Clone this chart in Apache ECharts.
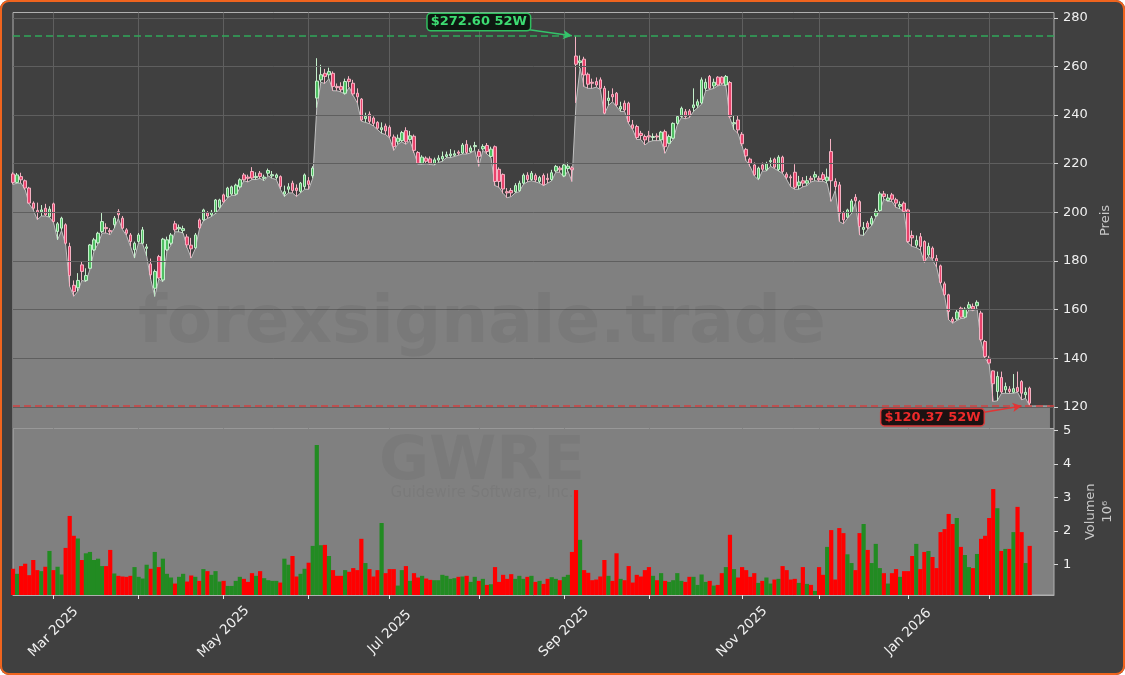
<!DOCTYPE html>
<html>
<head>
<meta charset="utf-8">
<script src="https://cdn.jsdelivr.net/npm/echarts@6/dist/echarts.min.js"></script>
<style>
html,body{margin:0;padding:0;background:#ffffff;}
#chart{position:absolute;left:0;top:0;width:1125px;height:675px;background:#404040;border-radius:9px;}
#frame{position:absolute;left:0;top:0;width:1125px;height:675px;box-sizing:border-box;border:2.5px solid #f0641e;border-radius:9px;pointer-events:none;}
</style>
</head>
<body>
<div id="chart"></div>
<div id="frame"></div>
<script>
// ---------- DATA ----------
const startDate = '2025-02-14';
const holidays = ['2025-02-17','2025-04-18','2025-05-26','2025-06-19','2025-07-04','2025-09-01','2025-11-27','2025-12-25','2026-01-01','2026-01-19','2026-02-16'];
const extraSlots = 6;

const open = [
215.8,212.3,214.7,213,210,203.8,200.8,200.2,201.7,198.3,
203.5,192.1,193.5,194.9,186,170,169,178.4,172,177,
184.6,187.5,192.1,193.8,192.5,194.9,200.3,197.6,192.8,190.7,
184.6,188,187.3,185.2,178.8,168.8,181.8,172.2,184.6,187.3,
195.3,193.2,192.5,189.9,186.5,185.4,196.9,196.9,199.8,199,
199.8,202.1,207.2,206.4,207.5,207.5,210.5,215.4,214.5,216.8,
214.3,216.1,214,216.1,215,214.3,214.7,207.5,209.5,212,
210,208.6,210.6,213,215,247,254.5,257.2,256.6,257.2,
251.8,251.8,249,254.8,253.1,249,246.6,238.5,240.4,238.8,
237,234,235.5,235,231,229,229.5,233.6,230,231.3,
224.6,220.2,222.3,222,220,221.5,222,223,223.3,223.5,
224.8,224.4,228,225,227,225,226.1,227.5,223,227,
217.7,215.6,208.5,209,208.5,208.9,212,215.3,213.5,215.2,
212.7,215.2,214,213.5,217,218.2,215,218,218.3,264.3,
261.6,263,256.8,253.5,253.8,254.5,251,246,248.5,249,
242.5,244.9,244.9,236,235.3,232.5,231.2,231.5,230.8,231.4,
229.8,233.2,228.4,230.5,236.6,239.4,241.4,241.7,243.1,244,
245,251,255.9,252,255.6,255.6,252.4,253.4,236.4,238,
232.1,225.9,221.9,219.5,214,219.5,217.5,220.8,221.9,217.6,
222.7,215.7,214.6,216.5,211,213,212,214,214.5,214,
215.5,213,225,212.7,211.3,199.9,198,199.9,206.2,204.4,
193,195.6,195.2,198.6,200.8,207.6,204.9,207.2,205.2,202.5,
203.8,201,190.5,186.5,190,188,182.5,185.3,181,178,
170.6,166.1,156.1,156.1,160.6,156.9,160.6,161.3,161.6,158.6,
146.9,140,134.8,126.3,132.1,127,127.3,126,128,130.4,
125,127.7];

const close = [
212.3,215.4,213.4,210,203.8,201.7,200,201,199,201.3,
196.2,195.3,197.6,187.3,174,167.4,172,175.7,174,186.6,
188.7,191.4,196.2,193.3,192,197.6,199,193.5,191.4,188,
187.3,190.7,192.8,185.8,174.3,175.7,173,189,188.7,190.7,
192.8,193.8,193.3,186.6,185,190.7,193.6,201,198.5,200,
205.1,205.1,204.3,210,210.5,211.2,213.4,213.4,214,214.1,
214.8,214.7,214.5,217.2,215.5,215.4,210.6,208.5,210.5,209,
209,212,215.4,211.5,218.2,254,256.6,255.9,257.9,251.8,
251.3,250.4,253.8,253.8,248.7,247.5,238,239.5,237.4,236.6,
234.6,234.8,233.5,231.3,227,230.5,232.8,229,231.5,225.5,
220.2,222.7,221,220.3,221.6,222.3,223,223.7,224,224.1,
224.3,227.7,224.6,226.5,227.5,223,227.1,225,226,212.7,
212.7,209.6,208,208,211,212,215.3,213.5,216.1,213.3,
214.3,211.3,213.5,216.3,218.9,217.5,219.5,219,217.5,260.9,
262.3,256.5,252.7,253.1,252.4,251,240.8,247,247.5,244.2,
243.5,242.1,237.3,234.6,230.8,231.6,229.8,231,231.2,231,
233,227,231.2,236.6,239.4,242.8,239.4,239.8,244.2,245.5,
254.5,253.5,251,253.5,252.4,253.1,255.9,239.4,236.9,233.9,
228.2,223.2,220.2,215.4,218.2,217.7,220,221.3,218.6,222.7,
216.8,214.4,214.2,210.3,212.5,212,213,213.4,215.5,213.4,
213.5,214.5,213,210.6,199.6,196.9,201,204.7,204.8,194.2,
193.8,193.8,197.6,200.4,207.6,206.5,205.9,205.4,203.8,203.2,
200.4,188,189.5,188.5,186,180,186,181.2,179.7,171.2,
166.1,159.2,155.1,159,156.9,160.2,162,160.2,163,147.6,
140.7,138,129.5,132.5,126.1,128.4,126.3,127.5,126.3,125.6,
126,121.5];

const low = [
211.5,212,212,209.3,203.5,201,197,198.5,198.5,198,
195.8,188.7,192.5,186.6,169.5,165.5,167.5,172,171.5,176.5,
184,187,191.5,191.5,190.8,193.5,197.5,193,190.5,186,
181.2,187.5,187,182,172.5,165.4,172.5,171.5,184,186.5,
192,192,191.5,185.5,181.2,185,193,196.5,197.5,198.3,
199.5,201.5,204,206,207,207,210,213,212.5,213.5,
213.5,214,213,215,214,213.5,209.5,206.5,208,208,
206.5,208,209.5,209.5,214,243,253.5,253,255,250,
250,249.5,248.5,251.5,248,245,237.5,237,236.5,235.5,
234,232.5,232,230.5,225.5,228,229,228,229.5,224.5,
219.8,219.8,220,219.7,219.5,220.5,221,222.5,222.5,223,
223.5,224,224,224.5,225.5,218.9,225.5,224,222.5,211,
210.3,207.8,206,206.5,208,208.5,211.5,212.5,213,212.5,
212,211,212,213,216.5,216.5,214.5,217,212.7,245,
259.3,251.7,251,251,251.5,250.5,240.4,244,245.5,243.5,
241.5,241.5,236.5,234,230,230,227.7,229,229.5,229.5,
229.5,224.3,228,230,236,239,238.5,239,241.5,243,
244.5,250,250.5,251,252,252.5,252,238.7,234,232.5,
227.3,221.3,218.8,215,213.4,217,217,219,218,217,
216,213.5,210.5,209.5,209.5,210.5,211,212.5,213,212.7,
212.8,212,204.5,209,196.2,195.3,197.5,199.5,204,190.7,
190.5,193,194.5,198,200.5,205.5,204.5,204.5,202,201.5,
200,187.4,186,185.5,184.5,179.4,182,180.5,177.5,170.5,
165.5,155.8,154.4,155.5,156.3,156.5,160,159.5,160.5,146.9,
140,137.5,122.2,122.5,125.5,125.6,125.5,125.6,126,122.9,
123.5,120.37];

const high = [
216.5,216.2,216.3,213.5,210.5,204.5,204,203,203.5,202.5,
204,196,198.2,195.5,187.5,172,175,180,177,187,
189.5,192,199.7,195.5,193.5,198.5,201.3,198.5,193.5,191.5,
188,191.5,194,187,181,176.5,182.5,189.5,190,191.5,
196.5,195,194.5,191,189.5,191.5,197.5,201.5,200.5,201,
205.5,205.6,207.7,210.5,211,211.8,214,216.2,215.5,218.6,
216.5,217,215.5,218,217,216,215.2,211,212,213,
211.5,212.5,216,214.5,219,263.4,260.7,259,259.5,258,
253,253.5,255,256,254.5,251,247,241,241.5,239.5,
237.5,237,236.5,235.8,232,232,233.5,235,233.5,232,
225.2,223.5,223,223,222.5,223.5,225,225,226,225.5,
225.5,228.5,229.7,227.5,229,226,228,228.5,227,227.5,
218.5,216,210,210,212,213,216,216.5,217,216,
215,216,216,217.5,219.5,219,220,220.5,219,272.6,
264.5,264,257.5,255,255.5,255.5,252,250,251,249.5,
245.5,246,245.5,238,236,233.5,232,233.5,232.5,232.5,
233.5,234,232,237,240,243.5,242.5,242.5,251,246.5,
255.5,255,256.5,255,256,256,256.5,254,240,240,
233,226.5,222.5,220.5,218.8,220.5,220.8,222.5,222.5,223.5,
223.3,216.5,215.5,219.8,215,214.5,215,215,216.8,215,
216.5,218,230.2,214,212.5,200.5,201.5,205.5,207.5,205,
196,196.5,198.5,201.5,208.5,208.8,207.5,208,206,204.5,
204.5,201.5,192.5,190.5,191.5,188.5,187.5,186,182.5,178.5,
171.5,166.5,157,160,161.2,161,163.2,162.5,163.8,159.5,
147.5,141,135,134.5,134.5,130,128.5,133.5,134.5,131,
128,128.3];

// volume in millions (10^6)
const volume = [
0.88,0.73,0.96,1.03,0.69,1.14,0.84,0.81,0.94,1.41,
0.84,0.94,0.71,1.5,2.45,1.86,1.78,1.14,1.34,1.38,
1.14,1.18,0.96,0.96,1.44,0.74,0.67,0.65,0.64,0.67,
0.93,0.64,0.59,1.0,0.88,1.38,0.93,1.18,0.73,0.62,
0.44,0.64,0.73,0.5,0.68,0.64,0.52,0.87,0.81,0.7,
0.81,0.5,0.52,0.37,0.37,0.52,0.64,0.58,0.49,0.75,
0.67,0.81,0.6,0.54,0.52,0.52,0.47,1.18,1.0,1.26,
0.65,0.73,0.88,1.06,1.56,4.56,1.58,1.59,1.26,0.84,
0.67,0.67,0.84,0.79,0.9,0.84,1.77,1.05,0.87,0.65,
0.84,2.24,0.75,0.87,0.87,0.38,0.84,0.96,0.52,0.75,
0.62,0.67,0.59,0.55,0.54,0.54,0.7,0.67,0.58,0.6,
0.64,0.65,0.67,0.49,0.64,0.52,0.58,0.4,0.42,0.93,
0.49,0.7,0.58,0.72,0.58,0.67,0.58,0.64,0.67,0.49,
0.52,0.43,0.58,0.63,0.58,
0.54,0.64,0.70,1.38,3.22,1.74,0.84,0.76,0.54,0.56,
0.65,1.14,0.67,0.52,1.34,0.58,0.54,0.96,0.47,0.7,
0.65,0.84,0.93,0.67,0.54,0.75,0.52,0.49,0.54,0.75,
0.52,0.49,0.64,0.64,0.40,0.71,0.49,0.52,0.38,0.40,
0.75,0.93,1.89,0.87,0.62,0.93,0.84,0.64,0.75,0.46,
0.52,0.62,0.44,0.56,0.58,0.96,0.84,0.56,0.58,0.46,
0.93,0.43,0.40,0.22,0.93,0.70,1.53,2.03,0.56,2.09,
1.94,1.31,1.05,0.84,1.94,2.21,1.44,1.05,1.62,0.9,
0.75,0.44,0.75,0.87,0.64,0.81,0.81,1.26,1.62,0.87,
1.38,1.41,1.23,0.9,1.97,2.06,2.51,2.21,2.39,1.53,
1.29,0.93,0.9,1.32,1.77,1.86,2.39,3.25,2.68,1.41,
1.47,1.47,1.97,2.72,1.97,1.05,1.56];

const priceTicks = [120,140,160,180,200,220,240,260,280];
const volTicks = [1,2,3,4,5];
const monthNames = ['Jan','Feb','Mar','Apr','May','Jun','Jul','Aug','Sep','Oct','Nov','Dec'];
const ticker = 'GWRE';
const company = 'Guidewire Software, Inc.';
const watermark = 'forexsignale.trade';

// ---------- DERIVED ----------
const nCandles = close.length;
function buildDates(n){
  const out=[]; const p=startDate.split('-').map(Number);
  const d=new Date(Date.UTC(p[0],p[1]-1,p[2]));
  while(out.length<n){
    const dow=d.getUTCDay(); const s=d.toISOString().slice(0,10);
    if(dow!==0&&dow!==6&&holidays.indexOf(s)<0) out.push(s);
    d.setUTCDate(d.getUTCDate()+1);
  }
  return out;
}
const dates = buildDates(nCandles+extraSlots);
function isMonthStart(i){ return i>0 && dates[i].slice(5,7)!==dates[i-1].slice(5,7); }
function isLabelMonth(i){ return isMonthStart(i) && (parseInt(dates[i].slice(5,7),10)%2===1); }

const candles = open.map((o,i)=>[o,close[i],low[i],high[i]]);
const lowExt = low.concat(new Array(extraSlots-1).fill(low[nCandles-1]));
const high52 = Math.max.apply(null, high);
const low52 = Math.min.apply(null, low);
const hiIdx = high.indexOf(high52);
const loIdx = low.indexOf(low52);
const volData = volume.map((v,i)=>({value:v, itemStyle:{color: close[i]>=open[i] ? '#228b22' : '#ff0000'}}));

const FONT = 'DejaVu Sans';
const GREEN = '#34c46a', RED = '#e23434';

const chart = echarts.init(document.getElementById('chart'), null, {renderer:'canvas'});
chart.setOption({
  animation:false,
  backgroundColor:'transparent',
  textStyle:{fontFamily:FONT},
  grid:[
    {left:13, right:71, top:12.5, height:416, show:true, backgroundColor:'#404040', borderColor:'#b0b0b0', borderWidth:1, outerBoundsMode:'none'},
    {left:13, right:71, top:428.5, height:166.5, show:true, backgroundColor:'#808080', borderColor:'#b0b0b0', borderWidth:1, outerBoundsMode:'none'}
  ],
  xAxis:[
    {type:'category', gridIndex:0, data:dates, boundaryGap:false,
     axisLine:{show:false}, axisTick:{show:false}, axisLabel:{show:false},
     splitLine:{show:true, interval:(i)=>isMonthStart(i), lineStyle:{color:'#5f5f5f', width:1}}},
    {type:'category', gridIndex:1, data:dates, boundaryGap:false,
     axisLine:{show:true, lineStyle:{color:'#b0b0b0'}},
     axisTick:{show:true, interval:(i)=>isMonthStart(i), length:4, lineStyle:{color:'#e6e6e6'}},
     axisLabel:{show:true, interval:(i)=>isLabelMonth(i), rotate:45, align:'center', verticalAlign:'middle', margin:37,
       color:'#f0f0f0', fontSize:13.5, fontFamily:FONT,
       formatter:(v)=>monthNames[parseInt(v.slice(5,7),10)-1]+' '+v.slice(0,4)},
     splitLine:{show:false}}
  ],
  yAxis:[
    {type:'value', gridIndex:0, position:'right', min:111.1, max:282.2, scale:true,
     axisLine:{show:false},
     axisTick:{show:true, customValues:priceTicks, length:4, lineStyle:{color:'#d8d8d8'}},
     axisLabel:{customValues:priceTicks, color:'#f0f0f0', fontSize:13, margin:9, fontFamily:FONT},
     splitLine:{show:false},
     name:'Preis', nameLocation:'middle', nameRotate:90, nameGap:40,
     nameTextStyle:{color:'#c8c8c8', fontSize:13, fontFamily:FONT}},
    {type:'value', gridIndex:1, position:'right', min:0.1, max:5.05, scale:true,
     axisLine:{show:false},
     axisTick:{show:true, customValues:volTicks, length:4, lineStyle:{color:'#d8d8d8'}},
     axisLabel:{customValues:volTicks, color:'#f0f0f0', fontSize:13, margin:9, fontFamily:FONT},
     splitLine:{show:false},
     name:'Volumen\n10⁶', nameLocation:'middle', nameRotate:90, nameGap:21,
     nameTextStyle:{color:'#c8c8c8', fontSize:13, lineHeight:17, fontFamily:FONT}}
  ],
  graphic:[
    {type:'text', x:482, y:325, z:50, silent:true,
     style:{text:watermark, fill:'rgba(40,40,40,0.075)', font:'bold 66px "DejaVu Sans"', align:'center', verticalAlign:'middle'}},
    {type:'text', x:482, y:463, z:50, silent:true,
     style:{text:ticker, fill:'rgba(40,40,40,0.065)', font:'bold 61px "DejaVu Sans"', align:'center', verticalAlign:'middle'}},
    {type:'text', x:482, y:493, z:50, silent:true,
     style:{text:company, fill:'rgba(40,40,40,0.06)', font:'15px "DejaVu Sans"', align:'center', verticalAlign:'middle'}}
  ],
  series:[
    {name:'gridlines', type:'line', xAxisIndex:0, yAxisIndex:0, data:[], z:1, silent:true,
     markLine:{silent:true, animation:false, symbol:['none','none'], label:{show:false},
       lineStyle:{color:'#5f5f5f', width:1, type:'solid'},
       data:priceTicks.map(v=>({yAxis:v}))}},
    {name:'Low', type:'line', xAxisIndex:0, yAxisIndex:0, data:lowExt, z:2, silent:true,
     symbol:'none', showSymbol:false,
     lineStyle:{color:'#c0c0c0', width:1},
     areaStyle:{color:'#808080', opacity:1, origin:'start'}},
    {name:ticker, type:'candlestick', xAxisIndex:0, yAxisIndex:0, data:candles, z:3, barWidth:3,
     itemStyle:{color:'#4fbf62', color0:'#e8436c', borderColor:'#c4efcb', borderColor0:'#f5b2c3', borderWidth:1},
     markLine:{silent:true, animation:false, symbol:['none','none'], label:{show:false},
       data:[
         {yAxis:high52, lineStyle:{color:'#2fa85a', width:1.5, type:[7,4]}},
         {yAxis:low52, lineStyle:{color:'#d04040', width:1.5, type:[7,4]}},
         [{coord:[127.4, 275.2], symbol:'none', lineStyle:{color:GREEN, width:1.5, type:'solid'}},
          {coord:[hiIdx-1, high52], symbol:'arrow', symbolSize:[7,9], lineStyle:{color:GREEN, width:1.5, type:'solid'}}],
         [{coord:[239.0, 117.6], symbol:'none', lineStyle:{color:RED, width:1.5, type:'solid'}},
          {coord:[loIdx-2, low52], symbol:'arrow', symbolSize:[7,9], lineStyle:{color:RED, width:1.5, type:'solid'}}]
       ]},
     markPoint:{silent:true, animation:false, symbol:'circle', symbolSize:1, itemStyle:{color:'rgba(0,0,0,0)'},
       data:[
         {coord:[115.3, 278.25], label:{show:true, position:'inside', formatter:'$'+high52.toFixed(2)+' 52W',
           color:'#3ddc72', fontWeight:'bold', fontSize:13, fontFamily:FONT,
           backgroundColor:'#0e1811', borderColor:'#2fbf5f', borderWidth:1.5, borderRadius:3, padding:[2,3,1,3]}},
         {coord:[227.0, 115.76], label:{show:true, position:'inside', formatter:'$'+low52.toFixed(2)+' 52W',
           color:'#ee2a2a', fontWeight:'bold', fontSize:13, fontFamily:FONT,
           backgroundColor:'#1c1212', borderColor:'#d83a3a', borderWidth:1.5, borderRadius:3, padding:[2,3,1,3]}}
       ]}},
    {name:'Volumen', type:'bar', xAxisIndex:1, yAxisIndex:1, data:volData, barWidth:4.2, z:2}
  ]
});
</script>
</body>
</html>
